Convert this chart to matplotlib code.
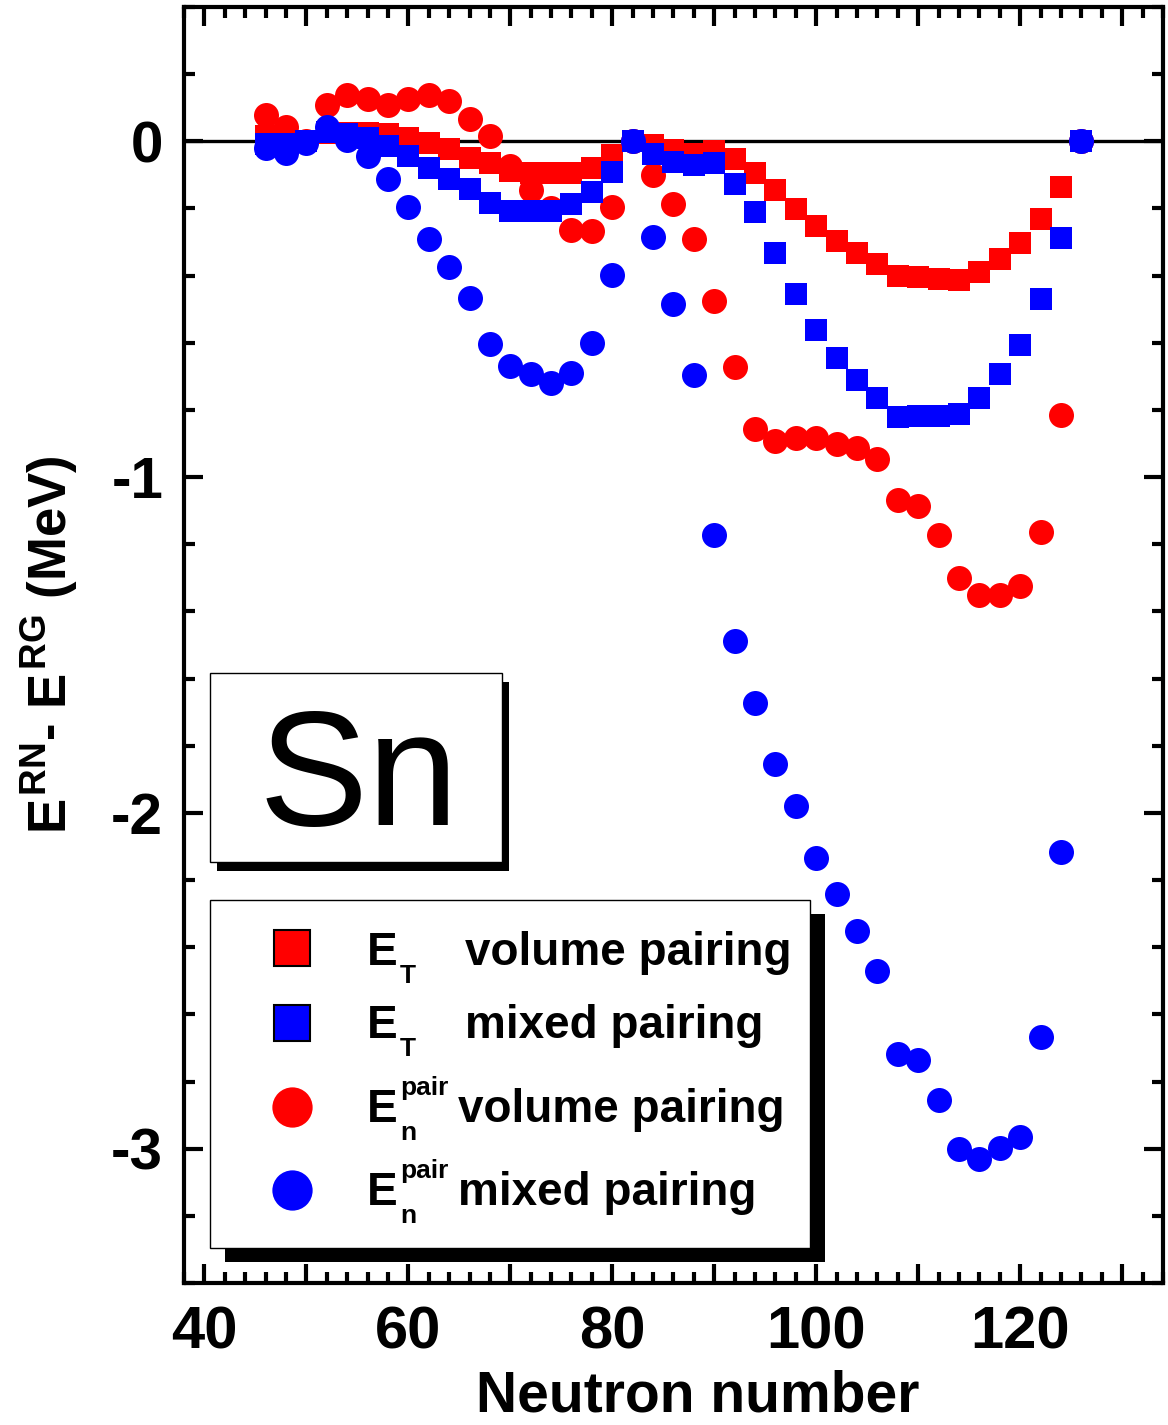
import matplotlib
matplotlib.use('Agg')
import matplotlib.pyplot as plt
from matplotlib.patches import Rectangle
from matplotlib.ticker import MultipleLocator, FuncFormatter

plt.rcParams['font.family'] = ['Liberation Sans', 'DejaVu Sans']
plt.rcParams['font.weight'] = 'bold'
plt.rcParams['axes.unicode_minus'] = False
plt.rcParams['mathtext.fontset'] = 'custom'
plt.rcParams['mathtext.rm'] = 'Liberation Sans:bold'
plt.rcParams['mathtext.it'] = 'Liberation Sans:bold'
plt.rcParams['mathtext.bf'] = 'Liberation Sans:bold'

# neutron numbers
N = [46, 48, 50, 52, 54, 56, 58, 60, 62, 64, 66, 68, 70, 72, 74, 76, 78, 80, 82, 84, 86,
     88, 90, 92, 94, 96, 98, 100, 102, 104, 106, 108, 110, 112, 114, 116, 118, 120, 122, 124, 126]

# E_T, volume pairing (red squares)
et_volume = [0.016, 0.010, 0.000, 0.026, 0.026, 0.024, 0.021, 0.011, -0.004, -0.024, -0.049,
             -0.064, -0.088, -0.093, -0.093, -0.093, -0.078, -0.042, 0.000, -0.012, -0.027,
             -0.037, -0.029, -0.054, -0.093, -0.144, -0.202, -0.253, -0.297, -0.334, -0.366,
             -0.401, -0.404, -0.409, -0.414, -0.389, -0.349, -0.302, -0.230, -0.136, 0.000]

# E_T, mixed pairing (blue squares)
et_mixed = [-0.009, -0.007, 0.001, 0.028, 0.021, 0.011, -0.014, -0.044, -0.078, -0.111, -0.143,
            -0.183, -0.207, -0.209, -0.209, -0.188, -0.151, -0.091, 0.000, -0.037, -0.062,
            -0.071, -0.064, -0.126, -0.210, -0.334, -0.454, -0.563, -0.644, -0.712, -0.763,
            -0.821, -0.818, -0.818, -0.811, -0.763, -0.692, -0.607, -0.471, -0.288, 0.000]

# E_n^pair, volume pairing (red circles)
ep_volume = [0.079, 0.043, 0.000, 0.109, 0.137, 0.127, 0.109, 0.127, 0.139, 0.120, 0.067,
             0.016, -0.075, -0.146, -0.200, -0.265, -0.267, -0.195, 0.000, -0.101, -0.188,
             -0.290, -0.475, -0.672, -0.858, -0.892, -0.883, -0.883, -0.901, -0.912, -0.947,
             -1.069, -1.087, -1.171, -1.300, -1.350, -1.350, -1.324, -1.163, -0.815, 0.000]

# E_n^pair, mixed pairing (blue circles)
ep_mixed = [-0.020, -0.034, -0.005, 0.043, 0.003, -0.045, -0.111, -0.195, -0.290, -0.374, -0.466,
            -0.605, -0.670, -0.694, -0.721, -0.691, -0.602, -0.399, 0.000, -0.285, -0.483,
            -0.695, -1.171, -1.487, -1.674, -1.853, -1.980, -2.135, -2.241, -2.351, -2.471,
            -2.718, -2.735, -2.854, -3.000, -3.032, -2.999, -2.964, -2.666, -2.115, 0.000]

RED = '#ff0000'
BLUE = '#0000ff'

fig = plt.figure(figsize=(11.68, 14.25), dpi=100)
ax = fig.add_axes([0.1575, 0.0996, 0.8382, 0.8955])

ax.axhline(0, color='black', lw=2.4, zorder=1)
ax.plot(N, et_volume, 's', color=RED, ms=16.3, mew=0, zorder=2)
ax.plot(N, ep_volume, 'o', color=RED, ms=18, mew=0, zorder=3)
ax.plot(N, et_mixed, 's', color=BLUE, ms=16.3, mew=0, zorder=4)
ax.plot(N, ep_mixed, 'o', color=BLUE, ms=18, mew=0, zorder=5)

ax.set_xlim(38, 134)
ax.set_ylim(-3.4, 0.4)

ax.xaxis.set_major_locator(MultipleLocator(10))
ax.xaxis.set_minor_locator(MultipleLocator(2))
ax.yaxis.set_major_locator(MultipleLocator(1))
ax.yaxis.set_minor_locator(MultipleLocator(0.2))
ax.xaxis.set_major_formatter(FuncFormatter(
    lambda v, p: f'{int(round(v))}' if int(round(v)) % 20 == 0 else ''))
ax.yaxis.set_major_formatter(FuncFormatter(lambda v, p: f'{int(round(v))}'))

ax.tick_params(which='both', direction='in', top=True, right=True, width=3)
ax.tick_params(which='major', length=14)
ax.tick_params(which='minor', length=8)
ax.tick_params(axis='x', which='major', labelsize=43, pad=16)
ax.tick_params(axis='y', which='major', labelsize=42, pad=15)
for lab in ax.get_xticklabels() + ax.get_yticklabels():
    lab.set_fontweight('bold')
for s in ax.spines.values():
    s.set_linewidth(3)

ax.set_xlabel('Neutron number', fontsize=41, fontweight='bold')
ax.xaxis.set_label_coords(0.525, -0.068)
ax.set_ylabel(r'$E^{RN}$- $E^{RG}$ (MeV)', fontsize=38, fontweight='bold')
ax.yaxis.set_label_coords(-0.106, 0.5)

# "Sn" box with shadow
ax.add_patch(Rectangle((0.0266 + 0.007, 0.330 - 0.007), 0.2982, 0.148,
                       transform=ax.transAxes, facecolor='black', edgecolor='none', zorder=8))
ax.add_patch(Rectangle((0.0266, 0.330), 0.2982, 0.148, transform=ax.transAxes,
                       facecolor='white', edgecolor='black', lw=1, zorder=9))
ax.text(0.178, 0.359, 'Sn', transform=ax.transAxes, fontsize=118, fontweight='normal',
        ha='center', va='baseline', zorder=10)

# legend box with shadow
ax.add_patch(Rectangle((0.0266 + 0.0153, 0.0274 - 0.011), 0.6128, 0.2728,
                       transform=ax.transAxes, facecolor='black', edgecolor='none', zorder=8))
ax.add_patch(Rectangle((0.0266, 0.0274), 0.6128, 0.2728, transform=ax.transAxes,
                       facecolor='white', edgecolor='black', lw=1, zorder=9))

rows = [
    ('s', RED, 'T', '', 'volume pairing', 0.2625, 0.2492, 0.287),
    ('s', BLUE, 'T', '', 'mixed pairing', 0.2038, 0.1920, 0.287),
    ('o', RED, 'n', 'pair', 'volume pairing', 0.1379, 0.1262, 0.280),
    ('o', BLUE, 'n', 'pair', 'mixed pairing', 0.0729, 0.0611, 0.280),
]
for mk, col, sub, sup, txt, ym, yb, xt in rows:
    if mk == 's':
        ax.plot([0.1103], [ym], 's', color=col, ms=26, mec='black', mew=1.5,
                transform=ax.transAxes, clip_on=False, zorder=10)
    else:
        ax.plot([0.1103], [ym], 'o', color=col, ms=29, mew=0,
                transform=ax.transAxes, clip_on=False, zorder=10)
    ax.text(0.1869, yb, 'E', transform=ax.transAxes, fontsize=33, fontweight='bold',
            ha='left', va='baseline', zorder=10)
    ax.text(0.2206, yb - 0.0141, sub, transform=ax.transAxes, fontsize=19,
            fontweight='bold', ha='left', va='baseline', zorder=10)
    if sup:
        ax.text(0.2206, yb + 0.0212, sup, transform=ax.transAxes, fontsize=19,
                fontweight='bold', ha='left', va='baseline', zorder=10)
    ax.text(xt, yb, txt, transform=ax.transAxes, fontsize=33, fontweight='bold',
            ha='left', va='baseline', zorder=10)

fig.savefig('out.png', dpi=100)
